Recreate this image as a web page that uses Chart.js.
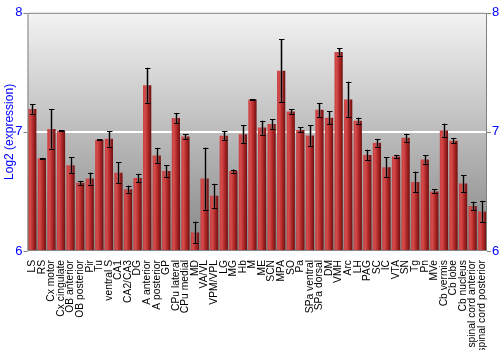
<!DOCTYPE html>
<html><head><meta charset="utf-8">
<script src="https://cdn.jsdelivr.net/npm/chart.js@4/dist/chart.umd.min.js"></script>
<style>html,body{margin:0;padding:0;background:#fff}#wrap{width:500px;height:350px}</style>
</head><body><div id="wrap"><canvas id="c" width="500" height="350"></canvas></div>
<script>
const categories = ["LS","RS","Cx motor","Cx cingulate","OB anterior","OB posterior","Pir","Tu","ventral S","CA1","CA2/CA3","DG","A anterior","A posterior","GP","CPu lateral","CPu medial","MD","VA/VL","VPM/VPL","LG","MG","Hb","M","ME","SCN","MPA","SO","Pa","SPa ventral","SPa dorsal","DM","VMH","Arc","LH","PAG","SC","IC","VTA","SN","Tg","Pn","MVe","Cb vermis","Cb lobe","Cb nucleus","spinal cord anterior","spinal cord posterior"];
const values = [7.193,6.779,7.025,7.008,6.721,6.572,6.608,6.934,6.942,6.657,6.519,6.613,7.392,6.801,6.671,7.116,6.961,6.155,6.608,6.464,6.967,6.671,6.981,7.271,7.036,7.066,7.514,7.171,7.017,6.970,7.185,7.119,7.671,7.271,7.094,6.807,6.909,6.704,6.793,6.950,6.580,6.768,6.500,7.011,6.925,6.566,6.378,6.331];
const errors = [0.04,0.003,0.165,0.004,0.065,0.017,0.05,0.004,0.065,0.088,0.03,0.035,0.146,0.065,0.05,0.043,0.02,0.091,0.26,0.1,0.039,0.013,0.073,0.003,0.058,0.04,0.262,0.02,0.02,0.088,0.058,0.054,0.03,0.15,0.025,0.043,0.032,0.084,0.014,0.034,0.086,0.036,0.017,0.058,0.022,0.069,0.036,0.09];
const yTicks = [6,7,8];

const BAR_PCT = 0.86;
const bgPlugin = {
  id:'bg',
  beforeDraw(chart){
    const {ctx, chartArea:a} = chart;
    const g = ctx.createLinearGradient(0,a.top,0,a.bottom);
    g.addColorStop(0,'#f3f3f3');
    g.addColorStop(1,'#858585');
    ctx.save(); ctx.fillStyle=g; ctx.fillRect(a.left,a.top,a.right-a.left,a.bottom-a.top); ctx.restore();
  },
  afterDatasetsDraw(chart){
    const {ctx, chartArea:a} = chart;
    const xs = chart.scales.x, ys = chart.scales.y;
    ctx.save();
    values.forEach((v,i)=>{
      const x = Math.round(xs.getPixelForValue(i))+0.5;
      const t = ys.getPixelForValue(v+errors[i]);
      const b = ys.getPixelForValue(v-errors[i]);
      ctx.strokeStyle='rgba(110,110,110,0.7)'; ctx.lineWidth=2.5;
      ctx.beginPath(); ctx.moveTo(x,t); ctx.lineTo(x,b); ctx.stroke();
      ctx.strokeStyle='#000'; ctx.lineWidth=1;
      ctx.beginPath();
      ctx.moveTo(x,t); ctx.lineTo(x,b);
      ctx.moveTo(x-2.5,Math.round(t)+0.5); ctx.lineTo(x+3,Math.round(t)+0.5);
      ctx.moveTo(x-2.5,Math.round(b)+0.5); ctx.lineTo(x+3,Math.round(b)+0.5);
      ctx.stroke();
    });
    ctx.strokeStyle='#808080'; ctx.lineWidth=1;
    ctx.beginPath();
    ctx.moveTo(a.left+0.5,a.bottom); ctx.lineTo(a.left+0.5,a.top+0.5); ctx.lineTo(a.right-0.5,a.top+0.5); ctx.lineTo(a.right-0.5,a.bottom);
    yTicks.forEach(tv=>{
      const y = Math.round(ys.getPixelForValue(tv))+0.5;
      ctx.moveTo(a.left-4,y); ctx.lineTo(a.left,y);
      ctx.moveTo(a.right,y); ctx.lineTo(a.right+4,y);
    });
    ctx.stroke();
    ctx.restore();
  }
};

function barColor(ctx){
  const chart = ctx.chart;
  const xs = chart.scales && chart.scales.x;
  if(!chart.chartArea || !xs || ctx.dataIndex===undefined) return '#a02828';
  const x = xs.getPixelForValue(ctx.dataIndex);
  const w = xs.width/categories.length*BAR_PCT;
  const g = chart.ctx.createLinearGradient(x-w/2,0,x+w/2,0);
  g.addColorStop(0,'#c83c3c');
  g.addColorStop(0.25,'#d44c4c');
  g.addColorStop(0.6,'#b02828');
  g.addColorStop(1,'#6e1010');
  return g;
}

new Chart(document.getElementById('c'),{
  type:'bar',
  data:{labels:categories,datasets:[{data:values,backgroundColor:barColor,borderWidth:0,barPercentage:BAR_PCT,categoryPercentage:1,base:6}]},
  options:{
    responsive:false,animation:false,
    layout:{padding:{top:9,right:0,left:0,bottom:0}},
    plugins:{legend:{display:false},tooltip:{enabled:false}},
    scales:{
      x:{
        grid:{display:false},border:{display:false},
        ticks:{autoSkip:false,maxRotation:90,minRotation:90,color:'#000',font:{family:'Liberation Sans',size:10.3},padding:1},
        afterFit(s){s.height=99;}
      },
      y:{
        position:'left',min:6,max:8,
        afterBuildTicks(s){s.ticks=yTicks.map(v=>({value:v}));},
        grid:{color:(c)=>c.tick&&c.tick.value===7?'#ffffff':'rgba(0,0,0,0)',lineWidth:2,drawTicks:false},
        border:{display:false},
        ticks:{color:'#0000ff',font:{family:'Liberation Sans',size:13},padding:5},
        title:{display:true,text:'Log2 (expression)',color:'#0000ff',font:{family:'Liberation Sans',size:12},padding:{top:2,bottom:0}},
        afterFit(s){s.width=27.5;}
      },
      y2:{
        position:'right',min:6,max:8,
        afterBuildTicks(s){s.ticks=yTicks.map(v=>({value:v}));},
        grid:{display:false,drawTicks:false},border:{display:false},
        ticks:{color:'#0000ff',font:{family:'Liberation Sans',size:13},padding:5},
        afterFit(s){s.width=13;}
      }
    }
  },
  plugins:[bgPlugin]
});
</script></body></html>
